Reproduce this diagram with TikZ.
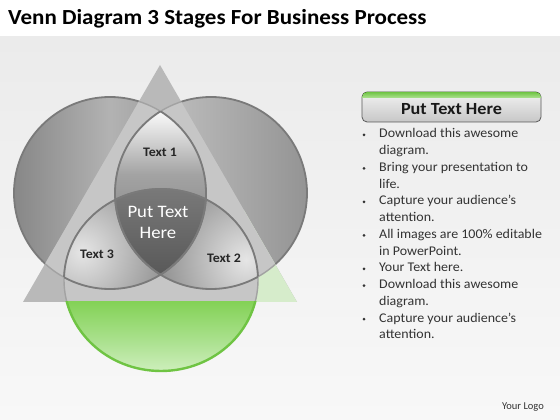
\documentclass[tikz,border=0pt]{standalone}
\usepackage{fontspec}
\setmainfont{Carlito}
\definecolor{bgtop}{HTML}{EBEBEB}
\definecolor{bgbot}{HTML}{F8F8F8}
\definecolor{ring}{HTML}{7A7A7A}
\definecolor{ringlight}{HTML}{A2A2A2}
\definecolor{trig}{HTML}{B9B9B9}
\definecolor{inband}{HTML}{C6C6C6}
\definecolor{palegreen}{HTML}{D6ECCB}
\definecolor{gtop}{HTML}{84D257}
\definecolor{gmid}{HTML}{A8E08B}
\definecolor{gbot}{HTML}{D2F0C2}
\definecolor{gring}{HTML}{6FC443}
\definecolor{txt}{HTML}{333333}
\begin{document}
\begin{tikzpicture}[x=1pt,y=1pt,line join=round,
  lensline/.style={draw=ring,line width=1.8},
  wide/.style={xscale=1.07,transform shape},
  lbl/.style={wide,font=\bfseries\fontsize{13}{15}\selectfont,text=black!85,inner sep=0},
  bul/.style={xscale=1.05,transform shape,anchor=base west,inner sep=0,font=\fontsize{13.3}{16}\selectfont,text=txt}]
\useasboundingbox (0,0) rectangle (560,420);
\fill[white] (0,0) rectangle (560,420);
\fill[top color=bgtop,bottom color=bgbot] (0,0) rectangle (560,383);
% title
\node[wide,anchor=base west,inner sep=0,font=\bfseries\fontsize{21.5}{24}\selectfont] (title) at (8,395) {Venn Diagram 3 Stages For Business Process};
% shapes
\def\pL{(110,227) circle (96)}
\def\pR{(211,227) circle (96)}
\def\pB{(161,140) ellipse (97 and 91)}
\def\pT{(160,355) -- (23,118) -- (297,118) -- cycle}
% outer circles
\path[draw=ring,line width=1.8,left color=black!47,right color=black!44,middle color=black!30] \pL;
\path[draw=ring,line width=1.8,left color=black!20,right color=black!42] \pR;
% triangle
\fill[trig] \pT;
\begin{scope}
  \clip \pT;
  \fill[palegreen] (235,118) rectangle (300,210);
  \fill[inband] \pL \pR \pB;
  \draw[ringlight,line width=1.4] \pL \pR \pB;
\end{scope}
% green bowl
\begin{scope}
  \clip (0,0) rectangle (560,118);
  \begin{scope}
    \clip \pB;
    \fill[top color=gtop,bottom color=gbot,middle color=gmid] (60,45) rectangle (262,118);
  \end{scope}
  \draw[gring,line width=2.4] \pB;
\end{scope}
% lens Text 1
\begin{scope}
  \clip \pL; \clip \pR;
  \fill[top color=white,bottom color=black!48,middle color=black!36] (100,180) rectangle (220,312);
\end{scope}
% lens Text 3
\begin{scope}
  \clip \pL; \clip \pB;
  \fill[inner color=black!10,outer color=black!52] (82,168) circle (110);
\end{scope}
% lens Text 2
\begin{scope}
  \clip \pR; \clip \pB;
  \fill[inner color=black!10,outer color=black!52] (246,160) circle (110);
\end{scope}
% centre
\begin{scope}
  \clip \pL; \clip \pR; \clip \pB;
  \fill[top color=black!52,bottom color=black!66] (105,140) rectangle (220,235);
\end{scope}
% lens outlines
\begin{scope}\clip \pL; \draw[lensline] \pR \pB;\end{scope}
\begin{scope}\clip \pR; \draw[lensline] \pL \pB;\end{scope}
\begin{scope}\clip \pB; \draw[lensline] \pL \pR;\end{scope}
% labels
\node[lbl] (t1) at (160,268) {Text 1};
\node[lbl] (t3) at (97,166) {Text 3};
\node[lbl] (t2) at (224,162) {Text 2};
\node[wide,align=center,inner sep=0,text=white,font=\fontsize{17.5}{21}\selectfont] (ctr) at (158,197.5) {Put Text\\Here};
% header box
\node[minimum width=179,minimum height=30,rounded corners=5,draw=black!65,line width=0.8,
      top color=black!5,bottom color=black!22,inner sep=0] (hdr) at (451.5,313) {};
\begin{scope}
  \clip[rounded corners=5] (362,298) rectangle (541,328);
  \fill[top color=gring,bottom color=gmid] (362,322.5) rectangle (541,328);
\end{scope}
\node[wide,inner sep=0,font=\bfseries\fontsize{17}{19}\selectfont,text=black!90] (hdrt) at (451.5,311) {Put Text Here};
% bullets
\foreach \i in {0,2,4,6,8,9,11}{\fill[txt] (364,{285-16.75*\i}) circle (1.5);}
\node[bul] (b1) at (379,282) {Download this awesome};
\node[bul] (b2) at (379,{282-16.75}) {diagram.};
\node[bul] (b3) at (379,{282-2*16.75}) {Bring your presentation to};
\node[bul] (b4) at (379,{282-3*16.75}) {life.};
\node[bul] (b5) at (379,{282-4*16.75}) {Capture your audience’s};
\node[bul] (b6) at (379,{282-5*16.75}) {attention.};
\node[bul] (b7) at (379,{282-6*16.75}) {All images are 100\% editable};
\node[bul] (b8) at (379,{282-7*16.75}) {in PowerPoint.};
\node[bul] (b9) at (379,{282-8*16.75}) {Your Text here.};
\node[bul] (b10) at (379,{282-9*16.75}) {Download this awesome};
\node[bul] (b11) at (379,{282-10*16.75}) {diagram.};
\node[bul] (b12) at (379,{282-11*16.75}) {Capture your audience’s};
\node[bul] (b13) at (379,{282-12*16.75}) {attention.};
% logo
\node[inner sep=0,font=\fontsize{10.5}{13}\selectfont,text=black!80] (logo) at (523,13) {Your Logo};
\end{tikzpicture}
\end{document}
